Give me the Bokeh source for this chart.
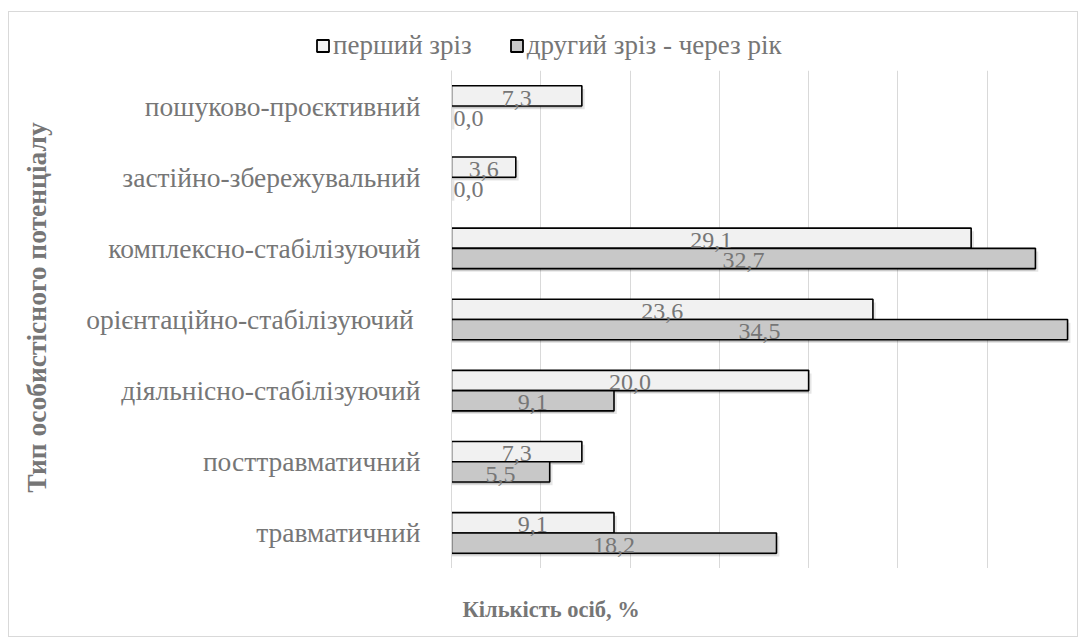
import math
from bokeh.plotting import figure
from bokeh.layouts import column, row
from bokeh.models import (ColumnDataSource, Range1d, FactorRange, FixedTicker, Legend,
                          LegendItem, Label)
from bokeh.transform import dodge
from bokeh.core.properties import value
from bokeh.embed import file_html
from bokeh.resources import INLINE

# ---- data (top to bottom as in the chart) ----
categories = ["пошуково-проєктивний", "застійно-збережувальний", "комплексно-стабілізуючий",
              "орієнтаційно-стабілізуючий ", "діяльнісно-стабілізуючий", "посттравматичний",
              "травматичний"]
first_cut = [7.3, 3.6, 29.1, 23.6, 20.0, 7.3, 9.1]
second_cut = [0.0, 0.0, 32.7, 34.5, 9.1, 5.5, 18.2]
series_names = ["перший зріз", "другий зріз - через рік"]
x_ticks = [0, 5, 10, 15, 20, 25, 30, 35]
x_title = "Кількість осіб, %"
y_title = "Тип особистісного потенціалу"

FONT = "Liberation Serif"
TXT = "#767676"
FILLS = ["#f1f1f1", "#c8c8c8"]

def fmt(v):
    return f"{v:.1f}".replace(".", ",")

factors = list(reversed(categories))

def make_src(vals):
    return ColumnDataSource(dict(
        cat=categories,
        v=vals,
        vs=[v + 0.16 for v in vals],
        lx=[max(v / 2, 0.95) for v in vals],
        lab=[fmt(v) for v in vals],
        la=[0.0 if v == 0 else 1.0 for v in vals],
    ))

s1 = make_src(first_cut)
s2 = make_src(second_cut)

off = 0.1425
bh = 0.285

def strip(w, h):
    f = figure(width=w, height=h, output_backend="svg", toolbar_location=None,
               x_range=Range1d(0, 1), y_range=Range1d(0, 1),
               x_axis_type=None, y_axis_type=None,
               min_border_left=0, min_border_right=0, min_border_top=0, min_border_bottom=0)
    f.outline_line_color = None
    f.frame_align = False
    f.xgrid.visible = False
    f.ygrid.visible = False
    return f

# ---------------- main chart ----------------
p = figure(width=1008, height=498, output_backend="svg", toolbar_location=None,
           x_range=Range1d(0, 35), y_range=FactorRange(factors=factors),
           min_border_left=382, min_border_right=1, min_border_top=0, min_border_bottom=0)
p.outline_line_color = None
p.background_fill_color = "white"
p.border_fill_color = "white"
p.frame_align = False

for s, o in ((s1, off), (s2, -off)):
    p.hbar(y=dodge("cat", o - 0.045, range=p.y_range), left=0, right="vs", height=bh,
           source=s, fill_color="black", fill_alpha=0.10, line_color=None)
    p.hbar(y=dodge("cat", o - 0.03, range=p.y_range), left=0, right="v", height=bh,
           source=s, fill_color="black", fill_alpha=0.15, line_color=None)

for s, o, fc in ((s1, off, FILLS[0]), (s2, -off, FILLS[1])):
    p.hbar(y=dodge("cat", o, range=p.y_range), left=0, right="v", height=bh, source=s,
           fill_color=fc, line_color="black", line_width=1.6, line_alpha="la")

for s, o in ((s1, off), (s2, -off)):
    p.text(x="lx", y=dodge("cat", o - 0.03, range=p.y_range), text="lab", source=s,
           text_font=value(FONT), text_font_size="24px", text_color=TXT,
           text_align="center", text_baseline="middle")

p.xaxis.visible = False
p.xgrid.ticker = FixedTicker(ticks=x_ticks)
p.xgrid.grid_line_color = "#d9d9d9"
p.xgrid.grid_line_width = 1
p.ygrid.grid_line_color = None

ya = p.yaxis[0]
ya.axis_line_color = "#d9d9d9"
ya.major_tick_line_color = None
ya.minor_tick_line_color = None
ya.major_label_text_font = FONT
ya.major_label_text_font_size = "27.5px"
ya.major_label_text_color = TXT
ya.major_label_standoff = 25

# ---------------- y title strip ----------------
yt = strip(60, 498)
yt.add_layout(Label(x=27, y=261, x_units="screen", y_units="screen", text=y_title,
                    angle=math.pi / 2, text_font=FONT, text_font_size="27.5px",
                    text_font_style="bold", text_color=TXT,
                    text_align="center", text_baseline="middle"))

# ---------------- x title strip ----------------
bt = strip(1068, 68)
bt.add_layout(Label(x=453, y=27, x_units="screen", y_units="screen", text=x_title,
                    text_font=FONT, text_font_size="22.5px", text_font_style="bold",
                    text_color=TXT, text_align="left", text_baseline="middle"))

# ---------------- legend strip ----------------
lg = figure(width=1068, height=58, output_backend="svg", toolbar_location=None,
            x_range=Range1d(0, 35), y_range=FactorRange(factors=factors),
            x_axis_type=None, y_axis_type=None,
            min_border_left=0, min_border_right=0, min_border_top=0, min_border_bottom=0)
lg.outline_line_color = None
lg.frame_align = False
lg.xgrid.visible = False
lg.ygrid.visible = False
items = []
for s, name, fc in ((s1, series_names[0], FILLS[0]), (s2, series_names[1], FILLS[1])):
    r = lg.hbar(y="cat", left=0, right="v", height=bh, source=s,
                fill_color=fc, line_color="black", line_width=1.8)
    r.visible = False
    items.append(LegendItem(label=name, renderers=[r]))

legend = Legend(items=items, orientation="horizontal", location=(306, 9))
legend.label_text_font = FONT
legend.label_text_font_size = "27px"
legend.label_text_color = TXT
legend.glyph_width = 15
legend.glyph_height = 15
legend.label_standoff = 3
legend.spacing = 37
legend.padding = 0
legend.margin = 0
legend.border_line_color = None
legend.background_fill_alpha = 0
legend.inactive_fill_alpha = 0
legend.click_policy = "none"
lg.add_layout(legend, "center")

layout = column(lg, row(yt, p, spacing=0), bt, spacing=0)
layout.styles = {"border": "1px solid #d9d9d9", "margin-left": "8px", "margin-top": "11px"}

open("out.html", "w").write(file_html(layout, INLINE))
